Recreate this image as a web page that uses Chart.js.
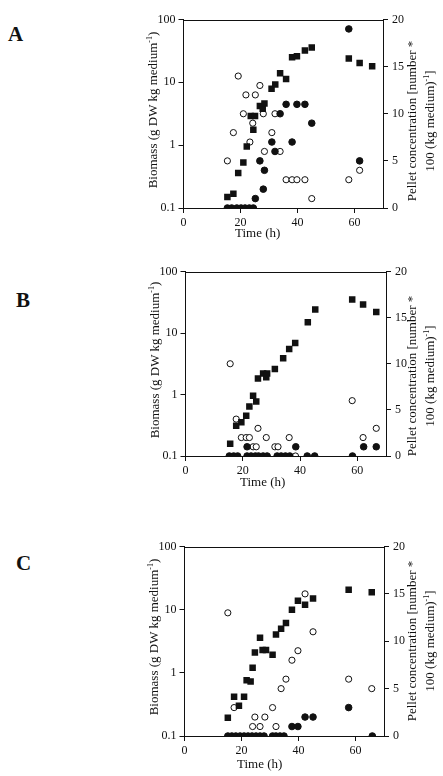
<!DOCTYPE html>
<html>
<head>
<meta charset="utf-8">
<script src="https://cdn.jsdelivr.net/npm/chart.js@4"></script>
<style>
  body { margin:0; background:#fff; width:443px; height:776px; position:relative; overflow:hidden; font-family:"Liberation Serif", serif; color:#111; }
  canvas { position:absolute; }
  .lab { position:absolute; white-space:nowrap; font-size:13px; line-height:18px; text-align:center; }
  .rot { transform: translate(-50%,-50%) rotate(-90deg); }
  .letter { position:absolute; font-weight:bold; font-size:21px; }
  sup { font-size:8px; line-height:0; }
</style>
</head>
<body>
<div class="letter" style="left:8px;top:22px">A</div>
<div class="letter" style="left:16px;top:288px">B</div>
<div class="letter" style="left:16px;top:551px">C</div>

<canvas id="chartA" width="323" height="250" style="left:120px;top:0px"></canvas>
<canvas id="chartB" width="323" height="250" style="left:120px;top:255px"></canvas>
<canvas id="chartC" width="323" height="256" style="left:120px;top:520px"></canvas>

<div class="lab rot" style="left:153px;top:110px">Biomass (g DW kg medium<sup>-1</sup>)</div>
<div class="lab rot" style="left:421px;top:121px">Pellet concentration [number *<br>100 (kg medium)<sup>-1</sup>]</div>
<div class="lab" style="left:235px;top:224px">Time (h)</div>

<div class="lab rot" style="left:155px;top:360px">Biomass (g DW kg medium<sup>-1</sup>)</div>
<div class="lab rot" style="left:421px;top:376px">Pellet concentration [number *<br>100 (kg medium)<sup>-1</sup>]</div>
<div class="lab" style="left:240px;top:473px">Time (h)</div>

<div class="lab rot" style="left:154px;top:637px">Biomass (g DW kg medium<sup>-1</sup>)</div>
<div class="lab rot" style="left:421px;top:641px">Pellet concentration [number *<br>100 (kg medium)<sup>-1</sup>]</div>
<div class="lab" style="left:237px;top:755px">Time (h)</div>

<script>
// tick labels
const TIME_TICKS = [0, 20, 40, 60];
const BIOMASS_TICKS = [0.1, 1, 10, 100];
const PELLET_TICKS = [0, 5, 10, 15, 20];

// Panel A - biomass (squares, left axis), pellets filled / open circles (right axis)
const A_SQ_T = [15.4,17.5,19.2,21,22.2,24.5,23.6,25.1,26.8,27.8,28.4,30.9,32.2,33.9,36,38.1,39.8,42.6,45,58,61.8,66.2];
const A_SQ_Y = [0.149,0.168,0.36,0.53,0.95,1.76,2.9,2.9,4.2,3.8,4.6,7.9,9.2,14,11.3,25,26,32,36,24,20.4,18];
const A_FC_T = [15.4,16.9,18.7,20.2,21.6,23.1,24.5,25.2,28,28.4,26.8,31,32.1,33.9,36,38.1,39.8,42.6,45,58,61.8];
const A_FC_Y = [0,0,0,0,0,0,0,1,2,4,5,7,6,10,11,7,11,11,9,19,5];
const A_OC_T = [15.4,17.5,19.2,21,21.9,23.3,24.3,25.2,26.8,28,28.4,31,32.1,33.9,36,38.1,39.8,42.6,45,58,61.8];
const A_OC_Y = [5,8,14,10,12,7,9,12,13,10,6,8,10,6,3,3,3,3,1,3,4];

// Panel B
const B_SQ_T = [15.6,17.7,19.5,21.2,22.3,23.6,24.7,25.3,27.1,28.5,28.2,31.2,34.1,36.2,38.3,42.7,45.3,58.2,62,66.6];
const B_SQ_Y = [0.158,0.31,0.355,0.45,0.64,0.95,0.77,1.82,2.2,2.2,1.9,2.6,3.9,5.5,6.9,14.9,24,35,29,22];
const B_FC_T = [15.3,16.8,18.2,21.5,22.9,24.4,25.5,27.1,28.5,32,33.4,34.9,36.4,42.5,45.1,58.3,21.5,38.5,62.2,66.6];
const B_FC_Y = [0,0,0,0,0,0,0,0,0,0,0,0,0,0,0,0,1,1,1,1];
const B_OC_T = [15.6,17.7,19.5,21.2,22.3,23.6,24.7,25.3,28.2,31.2,32.3,36.2,38.4,58.2,62,66.6];
const B_OC_Y = [10,4,2,2,2,1,1,3,2,1,1,2,0,6,2,3];

// Panel C
const C_SQ_T = [15.2,17.4,19.1,20.9,21.8,23.2,23.9,24.7,26.5,27.4,28.6,30.9,32.1,33.9,35.6,37.7,39.8,42.3,45.1,57.6,65.7];
const C_SQ_Y = [0.195,0.42,0.30,0.42,0.76,0.73,1.2,2.1,3.6,2.3,2.3,1.93,4.06,5.0,6.15,10,13.9,12,15,20.7,18.8];
const C_FC_T = [15.2,16.6,18,19.5,20.9,22.3,23.7,25.1,26.5,27.9,30.9,32.1,33.5,34.9,65.9,37.7,39.8,42.3,45.1,57.6];
const C_FC_Y = [0,0,0,0,0,0,0,0,0,0,0,0,0,0,0,1,1,2,2,3];
const C_OC_T = [15.2,17.4,23.9,24.7,26.5,28.2,30.9,32.1,33.9,35.6,37.7,39.8,42.3,45.1,57.6,65.7];
const C_OC_Y = [13,3,1,2,1,2,3,1,5,6,8,9,15,11,6,5];

const FONT = { family: "Liberation Serif", size: 12 };
const INK = '#111';

const pts = (t, y) => t.map((v, i) => ({ x: v, y: y[i] }));

// top border of the plot box
const framePlugin = {
  id: 'frame',
  afterDraw(chart){
    const { ctx, chartArea: a } = chart;
    ctx.save();
    ctx.strokeStyle = INK;
    ctx.lineWidth = 1;
    ctx.beginPath();
    ctx.moveTo(a.left, Math.round(a.top) + 0.5);
    ctx.lineTo(a.right, Math.round(a.top) + 0.5);
    ctx.stroke();
    ctx.restore();
  }
};

// box = plot area inside the canvas: left/right axis widths, top pad, bottom axis height
function makePanel(id, box, sq, fc, oc){
  const axisStyle = {
    grid: { drawOnChartArea:false, drawTicks:true, tickLength:5, color:INK },
    border: { color:INK, width:1 },
  };
  new Chart(document.getElementById(id), {
    type: 'scatter',
    data: {
      datasets: [
        { data: sq, yAxisID:'y', pointStyle:'rect', pointRadius:4.6, backgroundColor:INK, borderColor:INK, borderWidth:0 },
        { data: fc, yAxisID:'y2', pointStyle:'circle', pointRadius:3.3, backgroundColor:INK, borderColor:INK, borderWidth:1 },
        { data: oc, yAxisID:'y2', pointStyle:'circle', pointRadius:3.1, backgroundColor:'#fff', borderColor:INK, borderWidth:1 }
      ]
    },
    options: {
      responsive:false, animation:false, devicePixelRatio:1,
      layout: { padding: { top: box.top, left:0, right:0, bottom:0 } },
      plugins: { legend:{ display:false }, tooltip:{ enabled:false } },
      scales: {
        x: Object.assign({
          type:'linear', min:0, max:70,
          afterBuildTicks: s => { s.ticks = TIME_TICKS.map(v => ({ value:v })); },
          afterFit: s => { s.height = box.bottom; },
          ticks: { font:FONT, color:INK, padding:3, maxRotation:0 }
        }, axisStyle),
        y: Object.assign({
          type:'logarithmic', position:'left', min:0.1, max:100,
          afterBuildTicks: s => { s.ticks = BIOMASS_TICKS.map(v => ({ value:v })); },
          afterFit: s => { s.width = box.left; },
          ticks: { font:FONT, color:INK, padding:3, callback: v => String(v) }
        }, axisStyle),
        y2: Object.assign({
          type:'linear', position:'right', min:0, max:20,
          afterBuildTicks: s => { s.ticks = PELLET_TICKS.map(v => ({ value:v })); },
          afterFit: s => { s.width = box.right; },
          ticks: { font:FONT, color:INK, padding:4 }
        }, axisStyle)
      }
    },
    plugins: [framePlugin]
  });
}

makePanel('chartA', { left:63.5, right:60, top:19.5, bottom:42 }, pts(A_SQ_T, A_SQ_Y), pts(A_FC_T, A_FC_Y), pts(A_OC_T, A_OC_Y));
makePanel('chartB', { left:65.5, right:57, top:16.5, bottom:49 }, pts(B_SQ_T, B_SQ_Y), pts(B_FC_T, B_FC_Y), pts(B_OC_T, B_OC_Y));
makePanel('chartC', { left:64.5, right:59, top:26.5, bottom:40 }, pts(C_SQ_T, C_SQ_Y), pts(C_FC_T, C_FC_Y), pts(C_OC_T, C_OC_Y));
</script>
</body>
</html>
